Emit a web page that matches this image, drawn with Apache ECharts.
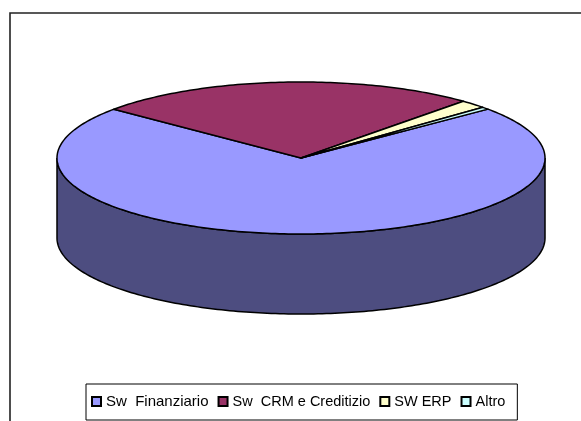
<!DOCTYPE html>
<html>
<head>
<meta charset="utf-8">
<style>
  html, body { margin: 0; padding: 0; background: #fff; }
  #chart { width: 581px; height: 421px; }
</style>
<script src="https://cdn.jsdelivr.net/npm/echarts@6/dist/echarts.min.js"></script>
</head>
<body>
<div id="chart"></div>
<script>
const categories = ['Sw  Finanziario', 'Sw  CRM e Creditizio', 'SW ERP', 'Altro']
const values = [72.2, 25.5, 1.8, 0.5]
const topColors = ['#9999FF', '#993366', '#FFFFCC', '#CCFFFF']
const sideColors = ['#4D4D80', '#4D1A33', '#808066', '#668080']

const startAngle = 50 // degrees clockwise from 12 o'clock
const cx = 301
const cy = 158
const rx = 244
const ry = 76
const depth = 80

const total = values.reduce((a, b) => a + b, 0)

// point on the ellipse, angle clockwise from the top
function rim(deg, dy) {
  const r = deg * Math.PI / 180
  return [cx + rx * Math.sin(r), cy - ry * Math.cos(r) + (dy || 0)]
}

function arcPoints(from, to, dy) {
  const pts = []
  for (let a = from; a < to; a += 1) pts.push(rim(a, dy))
  pts.push(rim(to, dy))
  return pts
}

// front part of the rim only, 90..270 plus whole turns
function frontRange(from, to) {
  for (const off of [0, 360]) {
    const a = Math.max(from, 90 + off)
    const b = Math.min(to, 270 + off)
    if (b > a) return [a, b]
  }
  return null
}

let acc = startAngle
const series = categories.map((name, i) => {
  const from = acc
  const to = acc + values[i] / total * 360
  acc = to
  return {
    type: 'custom',
    name: name,
    coordinateSystem: 'none',
    itemStyle: { color: topColors[i], borderColor: '#000', borderWidth: 1 },
    data: [[from, to]],
    renderItem: function (params, api) {
      const a0 = api.value(0)
      const a1 = api.value(1)
      const children = []
      const front = frontRange(a0, a1)
      if (front) {
        const upper = arcPoints(front[0], front[1], 0)
        const lower = arcPoints(front[0], front[1], depth).reverse()
        children.push({
          type: 'polygon',
          shape: { points: upper.concat(lower) },
          style: { fill: sideColors[i], stroke: '#000', lineWidth: 1.5 }
        })
      }
      children.push({
        type: 'polygon',
        shape: { points: [[cx, cy]].concat(arcPoints(a0, a1, 0)) },
        style: { fill: topColors[i], stroke: '#000', lineWidth: 1.5, lineJoin: 'round' }
      })
      return { type: 'group', children: children }
    }
  }
})

const myChart = echarts.init(document.getElementById('chart'), null, { renderer: 'canvas' })
myChart.setOption({
  animation: false,
  backgroundColor: '#fff',
  legend: {
    left: 86,
    top: 384,
    orient: 'horizontal',
    data: categories.map((name, i) => i === 0
      ? { name: name, textStyle: { fontSize: 15 } }
      : { name: name }),
    icon: 'rect',
    itemWidth: 9,
    itemHeight: 9,
    itemGap: 9,
    padding: [10, 12, 11, 5],
    borderColor: '#000',
    borderWidth: 1,
    selectedMode: false,
    textStyle: {
      color: '#000',
      fontFamily: 'Liberation Sans',
      fontSize: 14.5
    }
  },
  graphic: [
    {
      type: 'polyline',
      shape: { points: [[10, 421], [10, 13], [581, 13]] },
      style: { fill: null, stroke: '#222', lineWidth: 1.6 },
      silent: true,
      z: -1
    }
  ],
  series: series
})
</script>
</body>
</html>
